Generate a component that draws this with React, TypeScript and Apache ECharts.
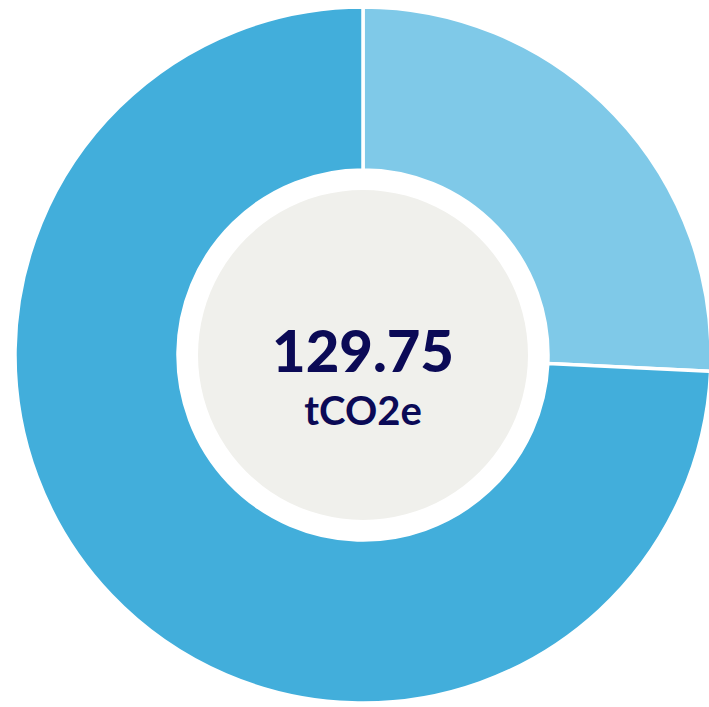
import React, { useEffect, useRef } from "react";
import * as echarts from "echarts";

const categories = ["Category A", "Category B"];
const values = [33.4, 96.35];
const colors = ["#7fc9e8", "#42aedb"];
const totalLabel = "129.75";
const unitLabel = "tCO2e";

export default function App() {
  const ref = useRef<HTMLDivElement>(null);
  useEffect(() => {
    document.body.style.margin = "0";
    const chart = echarts.init(ref.current!, null, { renderer: "svg" });
    const cx = 363;
    const cy = 355;
    chart.setOption({
      animation: false,
      backgroundColor: "#ffffff",
      graphic: [
        {
          type: "circle",
          shape: { cx, cy, r: 165 },
          style: { fill: "#f0f0ec" },
          z: 1,
        },
        {
          type: "text",
          x: cx,
          y: 349,
          style: {
            text: totalLabel,
            fill: "#0b0a56",
            font: "900 58px Lato",
            align: "center",
            verticalAlign: "middle",
          },
          z: 2,
        },
        {
          type: "text",
          x: cx,
          y: 410,
          style: {
            text: unitLabel,
            fill: "#0b0a56",
            font: "bold 40px Lato",
            align: "center",
            verticalAlign: "middle",
          },
          z: 2,
        },
      ],
      series: [
        {
          type: "pie",
          center: [cx, cy],
          radius: [185, 348],
          startAngle: 90,
          clockwise: true,
          label: { show: false },
          labelLine: { show: false },
          emphasis: { disabled: true },
          itemStyle: { borderColor: "#ffffff", borderWidth: 3.5 },
          data: categories.map((name, i) => ({
            name,
            value: values[i],
            itemStyle: { color: colors[i] },
          })),
        },
      ],
    });
    return () => chart.dispose();
  }, []);
  return (
    <div
      ref={ref}
      style={{ width: 709, height: 707, position: "absolute", left: 0, top: 0 }}
    />
  );
}
